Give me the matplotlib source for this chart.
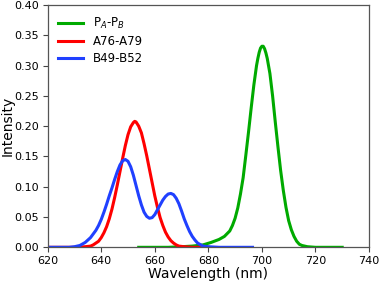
import matplotlib
matplotlib.use("Agg")
import matplotlib.pyplot as plt

# P_A-P_B
wl_p = [654, 660, 665, 670, 674, 678, 681, 684, 686, 688, 689, 690, 691, 692, 693,
        694, 695, 696, 697, 698, 698.5, 699, 699.5, 700, 700.5, 701, 701.5, 702, 703,
        704, 705, 706, 707, 708, 709, 710, 711, 712, 713, 714, 715, 717, 720, 725, 730]
int_p = [0.000, 0.000, 0.000, 0.001, 0.002, 0.004, 0.008, 0.013, 0.018, 0.027, 0.036,
         0.048, 0.065, 0.088, 0.115, 0.152, 0.190, 0.230, 0.268, 0.300, 0.312, 0.322,
         0.329, 0.332, 0.332, 0.328, 0.321, 0.312, 0.287, 0.250, 0.207, 0.166, 0.127,
         0.094, 0.066, 0.044, 0.029, 0.018, 0.010, 0.005, 0.003, 0.001, 0.000, 0.000,
         0.000]

# A76-A79
wl_a = [620, 630, 634, 636, 637, 638, 639, 640, 641, 642, 643, 644, 645, 646, 647,
        648, 649, 650, 651, 652, 652.5, 653, 654, 655, 656, 657, 658, 659, 660, 661,
        662, 663, 664, 665, 666, 667, 668, 669, 671, 674, 680]
int_a = [0.000, 0.000, 0.001, 0.002, 0.004, 0.007, 0.010, 0.016, 0.024, 0.034, 0.047,
         0.063, 0.082, 0.103, 0.125, 0.147, 0.168, 0.186, 0.199, 0.206, 0.208, 0.207,
         0.200, 0.189, 0.171, 0.151, 0.129, 0.107, 0.085, 0.066, 0.049, 0.036, 0.025,
         0.017, 0.011, 0.007, 0.004, 0.002, 0.001, 0.000, 0.000]

# B49-B52
wl_b = [620, 628, 630, 632, 634, 636, 637, 638, 639, 640, 641, 642, 643, 644, 645,
        646, 647, 648, 649, 650, 651, 652, 653, 654, 655, 656, 657, 658, 659, 660,
        661, 662, 663, 664, 665, 666, 667, 668, 669, 670, 671, 672, 673, 674, 675,
        676, 678, 680, 684, 690, 696.5]
int_b = [0.000, 0.000, 0.001, 0.003, 0.008, 0.016, 0.022, 0.028, 0.036, 0.046, 0.058,
         0.071, 0.085, 0.098, 0.112, 0.125, 0.136, 0.143, 0.145, 0.142, 0.133, 0.119,
         0.102, 0.085, 0.070, 0.058, 0.051, 0.048, 0.049, 0.054, 0.062, 0.070, 0.078,
         0.084, 0.088, 0.089, 0.087, 0.081, 0.072, 0.060, 0.047, 0.036, 0.026, 0.018,
         0.012, 0.007, 0.002, 0.001, 0.000, 0.000, 0.000]

fig = plt.figure(figsize=(3.8, 2.82), dpi=100)
ax = fig.add_axes([0.1255, 0.123, 0.8455, 0.859])

ax.plot(wl_p, int_p, color='#00aa00', lw=2.2, label=r'P$_A$-P$_B$')
ax.plot(wl_a, int_a, color='#ff0000', lw=2.2, label='A76-A79')
ax.plot(wl_b, int_b, color='#2040ff', lw=2.2, label='B49-B52')

ax.set_xlim(620, 740)
ax.set_ylim(0, 0.40)
ax.set_xticks(range(620, 741, 20))
ax.set_yticks([0.0, 0.05, 0.10, 0.15, 0.20, 0.25, 0.30, 0.35, 0.40])
ax.set_yticklabels(['0.00', '0.05', '0.10', '0.15', '0.20', '0.25', '0.30', '0.35', '0.40'])
ax.tick_params(labelsize=8, length=3.5, width=0.8, color='#444444', pad=2.5)
for s in ax.spines.values():
    s.set_color('#555555')
    s.set_linewidth(0.9)

ax.set_xlabel('Wavelength (nm)', fontsize=10, labelpad=1)
ax.set_ylabel('Intensity', fontsize=10)
ax.yaxis.set_label_coords(-0.103, 0.5)
ax.legend(loc='upper left', frameon=False, fontsize=8.5, handlelength=2.1,
          borderaxespad=0.5, labelspacing=0.35)

fig.savefig('out.png', dpi=100)
